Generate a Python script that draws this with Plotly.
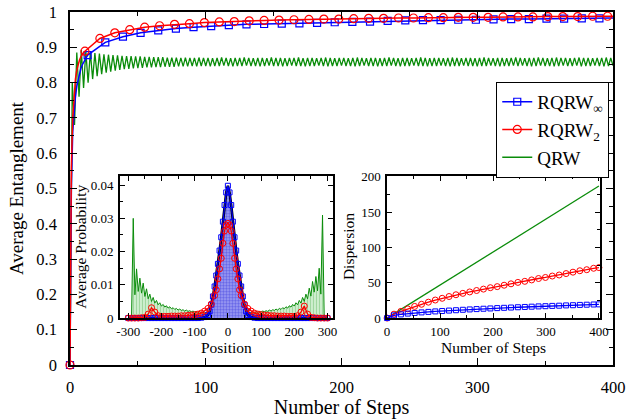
import plotly.graph_objects as go

# ---------------- main panel data ----------------
rqrw_inf_steps = [0, 1, 2, 3, 4, 5, 6, 7, 8, 9, 10, 11, 12,
                  13, 26, 39, 52, 65, 78, 91, 104, 117, 130, 143, 156, 169, 182, 195,
                  208, 221, 234, 247, 260, 273, 286, 299, 312, 325, 338, 351, 364, 377, 390, 400]
rqrw_inf_vals = [0.0, 0.50, 0.66, 0.72, 0.76, 0.79, 0.81, 0.83, 0.84, 0.85, 0.858, 0.865, 0.872,
                 0.878, 0.914, 0.930, 0.941, 0.948, 0.953, 0.957, 0.960, 0.963, 0.965, 0.966, 0.967,
                 0.968, 0.969, 0.971, 0.972, 0.973, 0.975, 0.976, 0.977, 0.977, 0.978, 0.978, 0.979,
                 0.980, 0.980, 0.981, 0.981, 0.982, 0.982, 0.983]
rqrw_inf_marker_every = 13

rqrw2_steps = [0, 1, 2, 3, 4, 5, 6, 7, 8, 9, 10,
               11, 22, 33, 44, 55, 66, 77, 88, 99, 110, 121, 132, 143, 154, 165, 176, 187, 198,
               209, 220, 231, 242, 253, 264, 275, 286, 297, 308, 319, 330, 341, 352, 363, 374,
               385, 396, 400]
rqrw2_vals = [0.0, 0.56, 0.70, 0.77, 0.81, 0.835, 0.852, 0.864, 0.873, 0.880, 0.885,
              0.889, 0.925, 0.941, 0.950, 0.957, 0.961, 0.965, 0.967, 0.970, 0.972, 0.973, 0.975,
              0.976, 0.977, 0.978, 0.979, 0.980, 0.980, 0.981, 0.982, 0.982, 0.983, 0.983, 0.984,
              0.984, 0.985, 0.985, 0.985, 0.986, 0.986, 0.986, 0.987, 0.987, 0.987, 0.988, 0.988, 0.988]
rqrw2_marker_every = 11

# QRW: one oscillation every ~3.33 steps (120 peaks / 120 troughs over 400 steps)
qrw_period = 400 / 120
qrw_peaks = [0.800, 0.885, 0.892, 0.889, 0.886, 0.884, 0.882, 0.880, 0.879, 0.878,
             0.877, 0.876, 0.875, 0.875, 0.874, 0.874, 0.873, 0.873, 0.872, 0.872,
             0.872, 0.871, 0.871, 0.871, 0.870, 0.871, 0.870, 0.870, 0.871, 0.870,
             0.870, 0.869, 0.870, 0.871, 0.870, 0.869, 0.870, 0.870, 0.871, 0.870,
             0.869, 0.870, 0.870, 0.869, 0.871, 0.870, 0.870, 0.869, 0.870, 0.870,
             0.871, 0.869, 0.870, 0.870, 0.869, 0.870, 0.871, 0.870, 0.869, 0.870,
             0.870, 0.869, 0.870, 0.871, 0.870, 0.869, 0.870, 0.870, 0.869, 0.870,
             0.871, 0.870, 0.869, 0.870, 0.870, 0.869, 0.870, 0.871, 0.870, 0.869,
             0.870, 0.870, 0.869, 0.870, 0.871, 0.870, 0.869, 0.870, 0.870, 0.869,
             0.870, 0.871, 0.870, 0.869, 0.870, 0.870, 0.869, 0.870, 0.871, 0.870,
             0.869, 0.870, 0.870, 0.871, 0.870, 0.869, 0.870, 0.871, 0.870, 0.870,
             0.869, 0.870, 0.871, 0.870, 0.870, 0.869, 0.870, 0.870, 0.871, 0.870]
qrw_troughs = [0.680, 0.760, 0.785, 0.800, 0.810, 0.818, 0.824, 0.828, 0.831, 0.834,
               0.836, 0.838, 0.839, 0.840, 0.841, 0.842, 0.843, 0.843, 0.844, 0.844,
               0.845, 0.845, 0.845, 0.846, 0.846, 0.846, 0.847, 0.846, 0.847, 0.847,
               0.846, 0.847, 0.847, 0.848, 0.847, 0.846, 0.847, 0.847, 0.848, 0.847,
               0.847, 0.846, 0.847, 0.848, 0.847, 0.847, 0.846, 0.847, 0.848, 0.847,
               0.847, 0.846, 0.847, 0.847, 0.848, 0.847, 0.846, 0.847, 0.847, 0.848,
               0.847, 0.847, 0.846, 0.847, 0.848, 0.847, 0.847, 0.846, 0.847, 0.847,
               0.848, 0.847, 0.846, 0.847, 0.847, 0.848, 0.847, 0.847, 0.846, 0.847,
               0.847, 0.848, 0.847, 0.846, 0.847, 0.847, 0.848, 0.847, 0.847, 0.846,
               0.847, 0.847, 0.848, 0.847, 0.846, 0.847, 0.847, 0.848, 0.847, 0.848,
               0.847, 0.846, 0.847, 0.848, 0.847, 0.847, 0.846, 0.847, 0.848, 0.847,
               0.847, 0.848, 0.846, 0.847, 0.847, 0.848, 0.847, 0.846, 0.847, 0.848]
qrw_start = (0, 0.0)

main_xticks = [0, 100, 200, 300, 400]
main_yticks = [0, 0.1, 0.2, 0.3, 0.4, 0.5, 0.6, 0.7, 0.8, 0.9, 1]
main_yticklabels = ["0", "0.1", "0.2", "0.3", "0.4", "0.5", "0.6", "0.7", "0.8", "0.9", "1"]

# ---------------- inset 1: average probability vs position ----------------
pos_blue = [-300, -290, -280, -270, -260, -250, -240, -230, -220, -210, -200, -190, -180, -170,
            -160, -150, -140, -130, -120, -110, -100, -90, -80, -70, -60, -55, -50, -45, -40,
            -35, -30, -25, -20, -15, -10, -5, 0, 5, 10, 15, 20, 25, 30, 35, 40, 45, 50, 55, 60,
            70, 80, 90, 100, 110, 120, 130, 140, 150, 160, 170, 180, 190, 200, 210, 220, 230,
            240, 250, 260, 270, 280, 290, 300]
prob_blue = [0, 0, 0, 0, 0, 0, 0, 0, 0, 0, 0, 0, 0, 0,
             0, 0, 0, 0, 0, 0, 0, 0, 0.0001, 0.0003, 0.0009, 0.0020, 0.0040, 0.0065, 0.0095,
             0.0128, 0.0163, 0.0203, 0.0243, 0.0290, 0.0340, 0.0378, 0.0398, 0.0378, 0.0340,
             0.0290, 0.0243, 0.0203, 0.0163, 0.0128, 0.0095, 0.0065, 0.0040, 0.0020, 0.0009,
             0.0003, 0.0001, 0, 0, 0, 0, 0, 0, 0, 0, 0, 0, 0, 0, 0, 0, 0,
             0, 0, 0, 0, 0, 0, 0]

pos_red = [-300, -290, -280, -270, -260, -250, -240, -230, -220, -210, -200, -190, -180, -170,
           -160, -150, -140, -130, -120, -110, -100, -90, -80, -70, -60, -50, -40, -35, -30,
           -25, -20, -15, -10, -5, 0, 5, 10, 15, 20, 25, 30, 35, 40, 50, 60, 70, 80, 90, 100,
           110, 120, 130, 140, 150, 160, 170, 180, 190, 200, 210, 220, 230, 240, 250, 260, 270,
           280, 290, 300]
prob_red = [0, 0, 0, 0, 0.0001, 0.0002, 0.0012, 0.0031, 0.0018, 0.0007, 0.0005, 0.0005, 0.0005,
            0.0006, 0.0006, 0.0006, 0.0007, 0.0007, 0.0008, 0.0009, 0.0010, 0.0012, 0.0015, 0.0021,
            0.0029, 0.0042, 0.0068, 0.0085, 0.0118, 0.0148, 0.0180, 0.0225, 0.0262, 0.0280, 0.0285,
            0.0280, 0.0262, 0.0225, 0.0180, 0.0148, 0.0118, 0.0085, 0.0068, 0.0042, 0.0029, 0.0021,
            0.0015, 0.0012, 0.0010, 0.0009, 0.0008, 0.0007, 0.0007, 0.0006, 0.0006, 0.0006, 0.0005,
            0.0005, 0.0005, 0.0007, 0.0018, 0.0036, 0.0012, 0.0002, 0.0001, 0, 0, 0, 0]

pos_green = [-300, -295, -290, -285, -280, -275, -270, -265, -260, -255, -250, -245, -240, -235,
             -230, -225, -220, -215, -210, -205, -200, -195, -190, -185, -180, -175, -170, -165,
             -160, -155, -150, -145, -140, -135, -130, -125, -120, -115, -110, -105, -100, -95,
             -90, -85, -80, -75, -70, -65, -60, -55, -50, -45, -40, -35, -30, -25, -20, -15, -10,
             -5, 0, 5, 10, 15, 20, 25, 30, 35, 40, 45, 50, 55, 60, 65, 70, 75, 80, 85, 90, 95,
             100, 105, 110, 115, 120, 125, 130, 135, 140, 145, 150, 155, 160, 165, 170, 175, 180,
             185, 190, 195, 200, 205, 210, 215, 220, 225, 230, 235, 240, 245, 250, 255, 260, 265,
             270, 275, 280, 285, 290, 295, 300]
prob_green = [0.0, 0.0, 0.0008, 0.0300, 0.0070, 0.0148, 0.0080, 0.0120, 0.0075, 0.0105, 0.0065,
              0.0088, 0.0058, 0.0072, 0.0050, 0.0062, 0.0045, 0.0053, 0.0040, 0.0046, 0.0036,
              0.0041, 0.0033, 0.0037, 0.0030, 0.0034, 0.0028, 0.0031, 0.0026, 0.0029, 0.0024,
              0.0027, 0.0023, 0.0025, 0.0021, 0.0024, 0.0020, 0.0022, 0.0019, 0.0021, 0.0018,
              0.0020, 0.0017, 0.0019, 0.0016, 0.0018, 0.0015, 0.0017, 0.0015,
              0.0016, 0.0014, 0.0015, 0.0013, 0.0014, 0.0012, 0.0013, 0.0012, 0.0012, 0.0011,
              0.0012, 0.0011, 0.0012, 0.0011, 0.0012, 0.0012, 0.0013, 0.0012, 0.0014, 0.0013,
              0.0015, 0.0014, 0.0016,
              0.0015, 0.0017, 0.0015, 0.0018, 0.0016, 0.0019, 0.0017, 0.0020, 0.0018, 0.0021,
              0.0019, 0.0022, 0.0020, 0.0024, 0.0021, 0.0025, 0.0023, 0.0027, 0.0024, 0.0029,
              0.0026, 0.0031, 0.0028, 0.0034, 0.0030, 0.0037, 0.0033, 0.0041, 0.0036, 0.0046,
              0.0040, 0.0053, 0.0045, 0.0062, 0.0050, 0.0072, 0.0058, 0.0090, 0.0066, 0.0110,
              0.0078, 0.0125, 0.0082, 0.0150, 0.0072, 0.0310, 0.0008, 0.0, 0.0]

pos_xticks = [-300, -200, -100, 0, 100, 200, 300]
pos_xticklabels = ["-300", "-200", "-100", "0", "100", "200", "300"]
prob_yticks = [0, 0.01, 0.02, 0.03, 0.04]
prob_yticklabels = ["0", "0.01", "0.02", "0.03", "0.04"]

# ---------------- inset 2: dispersion vs steps ----------------
disp_steps = [0, 13, 26, 39, 52, 65, 78, 91, 104, 117, 130, 143, 156, 169, 182, 195, 208, 221,
              234, 247, 260, 273, 286, 299, 312, 325, 338, 351, 364, 377, 390, 400]
disp_red = [0, 5.5, 9.5, 13, 16.5, 19.5, 22.5, 25.5, 28, 30.5, 33, 35, 37, 39, 41, 43, 44.5,
            46.5, 48.5, 50.5, 52, 54, 56, 57.5, 59.5, 61, 63, 65, 67, 68.5, 70.5, 71.5]
disp_blue = [0, 3.8, 5.2, 6.3, 7.2, 8.0, 8.7, 9.4, 10.0, 10.6, 11.1, 11.7, 12.2, 12.7, 13.2,
             13.6, 14.1, 14.5, 14.9, 15.3, 15.7, 16.1, 16.5, 16.8, 17.2, 17.5, 17.9, 18.2, 18.6,
             18.9, 19.2, 19.4]
disp_green_steps = [0, 100, 200, 300, 400]
disp_green = [0, 47, 94, 140, 187]

disp_xticks = [0, 100, 200, 300, 400]
disp_yticks = [0, 50, 100, 150, 200]

# ---------------- styling ----------------
FONT = "Liberation Serif"
BLUE = "#0000ff"
RED = "#ff0000"
GREEN = "#0a8c0a"

INSET1_X = [0.092, 0.484]
INSET2_X = [0.584, 0.976]
INSET_Y = [0.133, 0.535]

fig = go.Figure()

qrw_x = [qrw_start[0]]
qrw_y = [qrw_start[1]]
for i in range(len(qrw_peaks)):
    qrw_x.append(qrw_period * (i + 0.5))
    qrw_y.append(qrw_peaks[i])
    qrw_x.append(qrw_period * (i + 1))
    qrw_y.append(qrw_troughs[i])
fig.add_trace(go.Scatter(x=qrw_x, y=qrw_y, mode="lines", line=dict(color=GREEN, width=1.3),
                         showlegend=False, xaxis="x", yaxis="y"))

fig.add_trace(go.Scatter(x=rqrw_inf_steps, y=rqrw_inf_vals, mode="lines",
                         line=dict(color=BLUE, width=1.5), showlegend=False, cliponaxis=False))
mi = [i for i, s in enumerate(rqrw_inf_steps) if s % rqrw_inf_marker_every == 0 and s <= 390]
fig.add_trace(go.Scatter(x=[rqrw_inf_steps[i] for i in mi], y=[rqrw_inf_vals[i] for i in mi],
                         mode="markers", marker=dict(symbol="square-open", size=7, color=BLUE,
                                                     line=dict(width=1.2)),
                         showlegend=False, cliponaxis=False))

fig.add_trace(go.Scatter(x=rqrw2_steps, y=rqrw2_vals, mode="lines",
                         line=dict(color=RED, width=1.5), showlegend=False, cliponaxis=False))
mr = [i for i, s in enumerate(rqrw2_steps) if s % rqrw2_marker_every == 0 and s <= 396]
fig.add_trace(go.Scatter(x=[rqrw2_steps[i] for i in mr], y=[rqrw2_vals[i] for i in mr],
                         mode="markers", marker=dict(symbol="circle-open", size=8, color=RED,
                                                     line=dict(width=1.2)),
                         showlegend=False, cliponaxis=False))

fig.add_trace(go.Scatter(x=[None], y=[None], mode="lines+markers", name="RQRW<sub>∞</sub>",
                         line=dict(color=BLUE, width=1.5),
                         marker=dict(symbol="square-open", size=7, color=BLUE, line=dict(width=1.2))))
fig.add_trace(go.Scatter(x=[None], y=[None], mode="lines+markers", name="RQRW<sub>2</sub>",
                         line=dict(color=RED, width=1.5),
                         marker=dict(symbol="circle-open", size=8, color=RED, line=dict(width=1.2))))
fig.add_trace(go.Scatter(x=[None], y=[None], mode="lines", name="QRW",
                         line=dict(color=GREEN, width=1.5)))

fig.add_trace(go.Scatter(x=pos_green, y=prob_green, mode="lines", xaxis="x2", yaxis="y2",
                         line=dict(color=GREEN, width=1), fill="tozeroy",
                         fillcolor="#b0e0b0",
                         fillpattern=dict(shape="|", fgcolor="#4fb04f", bgcolor="#cdeecd",
                                          size=3, solidity=0.25),
                         showlegend=False))
fig.add_trace(go.Scatter(x=pos_blue, y=prob_blue, mode="lines", xaxis="x2", yaxis="y2",
                         line=dict(color="black", width=2.6), fill="tozeroy",
                         fillcolor="#8c8cf0",
                         fillpattern=dict(shape=".", fgcolor="#2a2ad8", bgcolor="#a0a0f4",
                                          size=3, solidity=0.5),
                         showlegend=False))
fig.add_trace(go.Scatter(x=pos_blue, y=prob_blue, mode="lines+markers", xaxis="x2", yaxis="y2",
                         line=dict(color=BLUE, width=1.2),
                         marker=dict(symbol="square-open", size=5, color=BLUE, line=dict(width=1)),
                         showlegend=False, cliponaxis=False))
fig.add_trace(go.Scatter(x=pos_red, y=prob_red, mode="lines+markers", xaxis="x2", yaxis="y2",
                         line=dict(color=RED, width=1.3),
                         marker=dict(symbol="circle-open", size=6, color=RED, line=dict(width=1)),
                         showlegend=False, cliponaxis=False))

fig.add_trace(go.Scatter(x=disp_green_steps, y=disp_green, mode="lines", xaxis="x3", yaxis="y3",
                         line=dict(color=GREEN, width=1.3), showlegend=False))
fig.add_trace(go.Scatter(x=disp_steps, y=disp_red, mode="lines+markers", xaxis="x3", yaxis="y3",
                         line=dict(color=RED, width=1.3),
                         marker=dict(symbol="circle-open", size=6, color=RED, line=dict(width=1)),
                         showlegend=False, cliponaxis=False))
fig.add_trace(go.Scatter(x=disp_steps, y=disp_blue, mode="lines+markers", xaxis="x3", yaxis="y3",
                         line=dict(color=BLUE, width=1.3),
                         marker=dict(symbol="square-open", size=5, color=BLUE, line=dict(width=1)),
                         showlegend=False, cliponaxis=False))


def axis_style(tickfont, major_len, minor_len, minor_dtick):
    return dict(showline=True, linecolor="black", linewidth=1.5, mirror="allticks",
                ticks="inside", ticklen=major_len, tickwidth=1.2, tickcolor="black",
                showgrid=False, zeroline=False, automargin=False,
                tickfont=dict(family=FONT, size=tickfont, color="black"),
                minor=dict(ticks="inside", ticklen=minor_len, tickwidth=1, tickcolor="black",
                           dtick=minor_dtick, showgrid=False))


inset_ytitle_font = dict(family=FONT, size=15.5, color="black")
annotations = [
    dict(text="Average Probability", textangle=-90, xref="paper", yref="paper",
         x=INSET1_X[0] - 0.074, y=(INSET_Y[0] + INSET_Y[1]) / 2, xanchor="center",
         yanchor="middle", showarrow=False, font=inset_ytitle_font),
    dict(text="Dispersion", textangle=-90, xref="paper", yref="paper",
         x=INSET2_X[0] - 0.072, y=(INSET_Y[0] + INSET_Y[1]) / 2, xanchor="center",
         yanchor="middle", showarrow=False, font=inset_ytitle_font),
]

fig.update_layout(
    width=626, height=419,
    margin=dict(l=70, r=13, t=12, b=54, autoexpand=False),
    paper_bgcolor="white", plot_bgcolor="white",
    font=dict(family=FONT, color="black"),
    xaxis=dict(domain=[0, 1], range=[0, 400], anchor="y",
               tickvals=main_xticks, ticklabelstandoff=6,
               title=dict(text="Number of Steps", font=dict(family=FONT, size=20), standoff=4),
               **axis_style(16.5, 7, 4, 50)),
    yaxis=dict(domain=[0, 1], range=[0, 1], anchor="x",
               tickvals=main_yticks, ticktext=main_yticklabels, ticklabelstandoff=8,
               title=dict(text="Average Entanglement", font=dict(family=FONT, size=19), standoff=8),
               **axis_style(16.5, 7, 4, 0.05)),
    xaxis2=dict(domain=INSET1_X, range=[-325, 316], anchor="y2",
                tickvals=pos_xticks, ticktext=pos_xticklabels, ticklabelstandoff=1,
                title=dict(text="Position", font=dict(family=FONT, size=15.5), standoff=0),
                **axis_style(13, 5, 3, 50)),
    yaxis2=dict(domain=INSET_Y, range=[0, 0.0427], anchor="x2",
                tickvals=prob_yticks, ticktext=prob_yticklabels, ticklabelstandoff=2,
                **axis_style(13, 5, 3, 0.005)),
    xaxis3=dict(domain=INSET2_X, range=[0, 402], anchor="y3",
                tickvals=disp_xticks, ticklabelstandoff=1,
                title=dict(text="Number of Steps", font=dict(family=FONT, size=15.5), standoff=0),
                **axis_style(13, 5, 3, 50)),
    yaxis3=dict(domain=INSET_Y, range=[0, 201], anchor="x3",
                tickvals=disp_yticks, ticklabelstandoff=2,
                **axis_style(13, 5, 3, 25)),
    annotations=annotations,
    legend=dict(x=0.785, y=0.802, xanchor="left", yanchor="top",
                bgcolor="white", bordercolor="black", borderwidth=1,
                font=dict(family=FONT, size=19, color="black"),
                tracegroupgap=0, itemwidth=30),
    showlegend=True,
)

fig.write_html("out.html", config={"displayModeBar": False},
               post_script="document.body.style.margin='0';document.body.style.overflow='hidden';")
